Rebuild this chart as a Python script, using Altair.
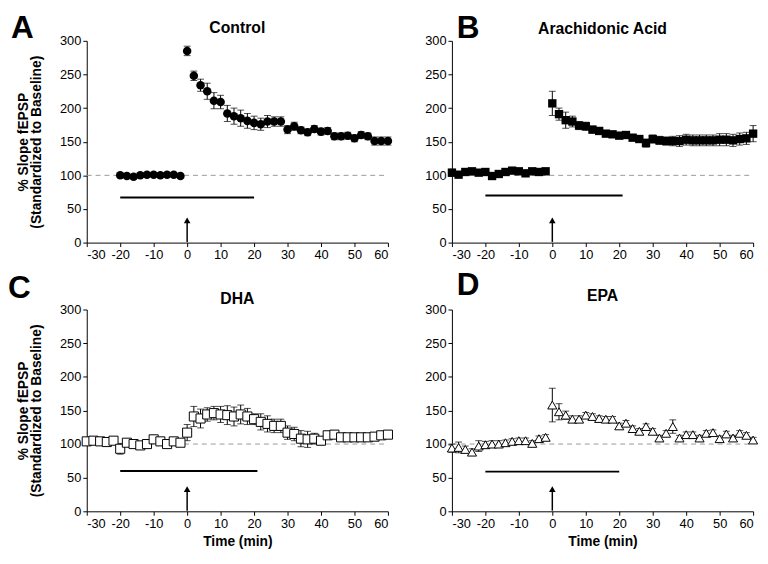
import altair as alt
import pandas as pd

FONT = "Liberation Sans"

# ---------------- data ----------------
# Panel A - Control (filled circles)
t_A = list(range(-20, 0, 2)) + list(range(0, 62, 2))
v_A = [100, 99, 98, 100, 101, 101, 100, 101, 101, 99,
       285, 248, 234, 225, 211, 209, 192, 188, 185, 181,
       178, 176, 180, 180, 180, 168, 173, 167, 164, 169,
       165, 166, 158, 158, 159, 155, 160, 158, 151, 151, 151]
e_A = [3, 3, 3, 3, 3, 3, 3, 3, 3, 3,
       7, 7, 9, 12, 12, 10, 12, 12, 12, 11,
       10, 9, 9, 7, 7, 6, 6, 5, 5, 5,
       5, 5, 5, 5, 5, 5, 5, 5, 6, 6, 6]

# Panel B - Arachidonic Acid (filled squares)
t_B = list(range(-30, 0, 2)) + list(range(0, 62, 2))
v_B = [104, 101, 105, 106, 104, 105, 99, 102, 105, 107, 106, 103, 106, 105, 106,
       207, 191, 182, 180, 174, 173, 168, 166, 162, 161,
       159, 160, 156, 154, 148, 154, 152, 151, 151, 151,
       153, 152, 152, 152, 152, 153, 153, 152, 154, 155, 162]
e_B = [5, 4, 3, 3, 3, 3, 4, 3, 3, 3, 3, 3, 3, 3, 3,
       18, 9, 12, 8, 6, 6, 5, 4, 4, 4,
       4, 4, 4, 4, 6, 6, 6, 6, 7, 8,
       8, 8, 8, 8, 8, 9, 9, 9, 9, 9, 12]

# Panel C - DHA (open squares)
t_C = list(range(-30, 62, 2))
v_C = [104, 105, 104, 103, 105, 93, 102, 100, 98, 100, 107, 104, 100, 104, 102,
       117, 141, 138, 144, 146, 144, 143, 141, 144, 141,
       137, 133, 130, 127, 127, 117, 115, 108, 107, 108,
       105, 113, 114, 110, 110, 110, 110, 110, 111, 113, 114]
e_C = [4, 4, 4, 4, 4, 8, 5, 5, 5, 5, 5, 5, 5, 5, 5,
       12, 15, 14, 10, 10, 12, 14, 14, 14, 12,
       8, 12, 12, 10, 10, 10, 10, 12, 12, 8,
       6, 5, 5, 5, 5, 5, 5, 5, 5, 5, 5]

# Panel D - EPA (open triangles)
t_D = list(range(-30, 62, 2))
v_D = [94, 95, 92, 88, 97, 99, 100, 100, 102, 104, 105, 105, 101, 108, 110,
       158, 148, 143, 137, 137, 143, 141, 138, 137, 137,
       127, 131, 123, 119, 126, 119, 109, 116, 126, 109,
       114, 114, 109, 116, 117, 108, 115, 109, 116, 113, 106]
e_D = [6, 8, 5, 5, 8, 5, 5, 5, 4, 4, 4, 4, 4, 4, 4,
       25, 12, 6, 5, 5, 4, 4, 4, 4, 4,
       4, 4, 4, 4, 4, 4, 4, 4, 10, 4,
       4, 4, 4, 4, 4, 4, 4, 4, 4, 4, 4]

# drug application bars: (start, end, level)
bar_A = (-20, 20, 67)
bar_B = (-20, 21, 70)
bar_C = (-20, 21, 60)
bar_D = (-20, 20, 59)

x_ticks = [-30, -20, -10, 0, 10, 20, 30, 40, 50, 60]
y_ticks = [0, 50, 100, 150, 200, 250, 300]

W, H = 306, 205
HYPHEN_EXPR = "replace(datum.label, '\u2212', '-')"


def panel(t, v, e, bar, title, title_y, letter, letter_xy, mark_kw, show_ytitle, show_xtitle):
    df = pd.DataFrame({"t": t, "v": v,
                       "lo": [a - b for a, b in zip(v, e)],
                       "hi": [a + b for a, b in zip(v, e)]})
    xs = alt.Scale(domain=[-30, 60], nice=False)
    ys = alt.Scale(domain=[0, 300], nice=False)
    xax = alt.Axis(values=x_ticks, title="Time (min)" if show_xtitle else None,
                   grid=False, titlePadding=5, labelOverlap=False, labelExpr=HYPHEN_EXPR)
    yax = alt.Axis(values=y_ticks,
                   title=["% Slope fEPSP", "(Standardized to Baseline)"] if show_ytitle else None,
                   grid=False, titlePadding=16, labelOverlap=False, titleLineHeight=13)

    X = lambda f: alt.X(f, scale=xs, axis=xax)
    Y = lambda f: alt.Y(f, scale=ys, axis=yax)

    base = alt.Chart(df)
    ref = alt.Chart(pd.DataFrame({"x": [-30], "x2": [60], "y": [100]})).mark_rule(
        color="#999999", strokeDash=[5, 4], strokeWidth=1).encode(
        x=X("x:Q"), x2="x2:Q", y=Y("y:Q"))
    barl = alt.Chart(pd.DataFrame({"x0": [bar[0]], "x1": [bar[1]], "y": [bar[2]]})).mark_rule(
        color="black", strokeWidth=2).encode(
        x=X("x0:Q"), x2="x1:Q", y=Y("y:Q"))
    shaft = alt.Chart(pd.DataFrame({"x": [0], "y0": [1], "y1": [30]})).mark_rule(
        color="black", strokeWidth=1.5).encode(
        x=X("x:Q"), y=Y("y0:Q"), y2="y1:Q")
    head = alt.Chart(pd.DataFrame({"x": [0], "y": [33]})).mark_point(
        shape="triangle-up", filled=True, color="black", size=45, opacity=1).encode(
        x=X("x:Q"), y=Y("y:Q"))
    err = base.mark_rule(color="black", strokeWidth=1).encode(
        x=X("t:Q"), y=Y("lo:Q"), y2="hi:Q")
    cap_hi = base.mark_tick(orient="horizontal", color="black", size=7, thickness=1).encode(
        x=X("t:Q"), y=Y("hi:Q"))
    cap_lo = base.mark_tick(orient="horizontal", color="black", size=7, thickness=1).encode(
        x=X("t:Q"), y=Y("lo:Q"))
    pts = base.mark_point(opacity=1, **mark_kw).encode(x=X("t:Q"), y=Y("v:Q"))
    lab = alt.Chart(pd.DataFrame({"s": [letter]})).mark_text(
        font=FONT, fontSize=32, fontWeight="bold", align="left", baseline="top",
        color="black").encode(
        x=alt.value(letter_xy[0]), y=alt.value(letter_xy[1]), text="s:N")
    ttl = alt.Chart(pd.DataFrame({"s": [title]})).mark_text(
        font=FONT, fontSize=16, fontWeight="bold", align="center", baseline="alphabetic",
        color="black").encode(
        x=alt.value(W / 2), y=alt.value(title_y), text="s:N")

    return alt.layer(ref, barl, shaft, head, err, cap_hi, cap_lo, pts, lab, ttl).properties(
        width=W, height=H)


A = panel(t_A, v_A, e_A, bar_A, "Control", -8, "A", (-77, -28),
          dict(shape="circle", filled=True, color="black", size=75), True, False)
B = panel(t_B, v_B, e_B, bar_B, "Arachidonic Acid", -7, "B", (5, -28),
          dict(shape="square", filled=True, color="black", size=72), False, False)
C = panel(t_C, v_C, e_C, bar_C, "DHA", -6, "C", (-80, -37),
          dict(shape="square", filled=True, fill="white", stroke="black", strokeWidth=1, size=85),
          True, True)
D = panel(t_D, v_D, e_D, bar_D, "EPA", -9, "D", (5, -40),
          dict(shape="triangle-up", filled=True, fill="white", stroke="black", strokeWidth=1, size=85),
          False, True)

chart = alt.concat(
    A, B, C, D, columns=2,
    spacing=alt.RowColnumber(row=68, column=65), bounds="flush"
).properties(background="white", padding=0).configure_view(stroke=None).configure_axis(
    labelFont=FONT, labelFontSize=13, labelColor="black",
    titleFont=FONT, titleFontSize=14, titleFontWeight="bold", titleColor="black",
    domainColor="black", tickColor="black", tickSize=4, labelPadding=2, labelOverlap=False
)

chart.save("out.html", embed_options={"renderer": "svg", "actions": False})
